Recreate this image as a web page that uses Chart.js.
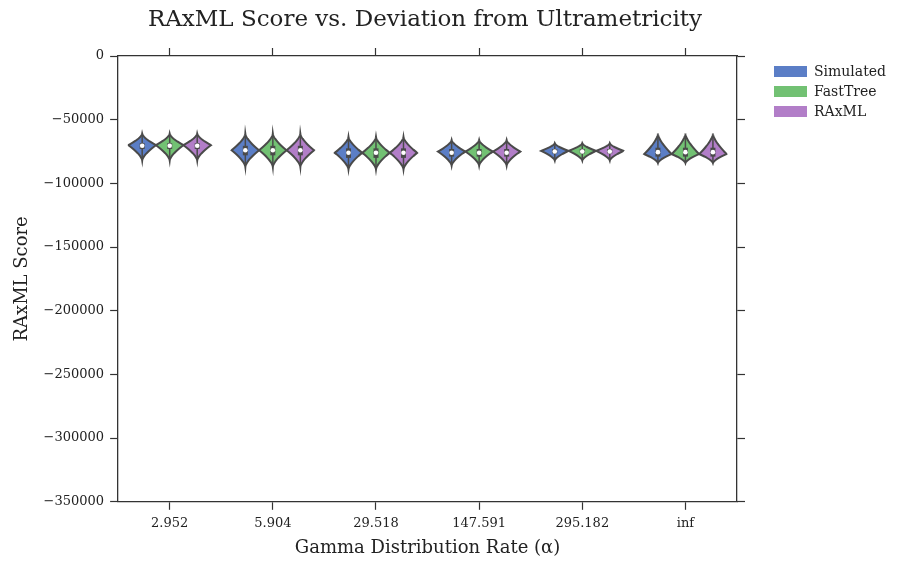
<!DOCTYPE html>
<html><head><meta charset="utf-8">
<script src="https://cdn.jsdelivr.net/npm/chart.js@4"></script>
<style>
body{margin:0;background:#fff;font-family:"DejaVu Serif",serif}
#wrap{position:relative;width:900px;height:563px}
#title{position:absolute;left:0;width:850px;top:5px;text-align:center;font-size:23px;color:#222}
#legend{position:absolute;left:774px;top:61px;font-size:14px;color:#222}
#legend div{height:20px;display:flex;align-items:center}
#legend span{display:inline-block;width:33px;height:11px;margin-right:7px}
</style></head><body>
<div id="wrap"><canvas id="c" width="900" height="563"></canvas>
<div id="title">RAxML Score vs. Deviation from Ultrametricity</div><div id="legend"></div></div>
<script>
// datos
const categories = ['2.952', '5.904', '29.518', '147.591', '295.182', 'inf'];
const seriesNames = ['Simulated', 'FastTree', 'RAxML'];
const seriesColors = ['#5b7ec6', '#72c173', '#b27ec8'];
// por categoria (iguales en las tres series)
const vMin = [-82000, -87000, -89000, -86000, -82000, -84000];
const vMax = [-61000, -61000, -63500, -66000, -68500, -61000];
const vMode = [-70000, -74000, -76000, -75000, -74500, -77000];
const vQ1 = [-73000, -78000, -80000, -79000, -76500, -79000];
const vMed = [-70500, -74000, -76000, -76000, -75000, -75500];
const vQ3 = [-68500, -70500, -72500, -73000, -73000, -72000];

const qs = s => document.querySelector(s);
qs('#legend').innerHTML = seriesNames.map((n, i) =>
  `<div><span style="background:${seriesColors[i]}"></span>${n}</div>`).join('');

const violins = {
  id: 'violins',
  afterDatasetsDraw(chart) {
    const ctx = chart.ctx, y = chart.scales.y;
    chart.data.datasets.forEach((ds, di) => {
      chart.getDatasetMeta(di).data.forEach((bar, i) => {
        const x = bar.x, hw = bar.width / 2;
        const top = y.getPixelForValue(vMax[i]), bot = y.getPixelForValue(vMin[i]);
        const mode = y.getPixelForValue(vMode[i]);
        const half = py => {
          const t = py < mode ? (mode - py) / (mode - top) : (py - mode) / (bot - mode);
          return hw * Math.pow(1 - Math.min(1, t), 1.5);
        };
        ctx.save();
        ctx.beginPath();
        for (let py = top; py <= bot; py += 0.5) ctx.lineTo(x + half(py), py);
        for (let py = bot; py >= top; py -= 0.5) ctx.lineTo(x - half(py), py);
        ctx.closePath();
        ctx.fillStyle = seriesColors[di];
        ctx.fill();
        ctx.strokeStyle = '#4a4a4a'; ctx.lineWidth = 2; ctx.stroke();
        // bigote + caja
        ctx.beginPath(); ctx.moveTo(x, top + 2); ctx.lineTo(x, bot - 2);
        ctx.lineWidth = 1.5; ctx.stroke();
        ctx.beginPath(); ctx.moveTo(x, y.getPixelForValue(vQ3[i])); ctx.lineTo(x, y.getPixelForValue(vQ1[i]));
        ctx.lineWidth = 5; ctx.stroke();
        ctx.beginPath(); ctx.arc(x, y.getPixelForValue(vMed[i]), 2.3, 0, Math.PI * 2);
        ctx.fillStyle = '#fff'; ctx.fill();
        ctx.restore();
      });
    });
  }
};

const font = { family: 'DejaVu Serif', size: 13 };
const tickGrid = { drawOnChartArea: false, tickLength: 8, color: '#333', tickWidth: 1.2, offset: false };
new Chart(qs('#c'), {
  type: 'bar',
  data: {
    labels: categories,
    datasets: seriesNames.map((n, i) => ({
      label: n, data: vMed, backgroundColor: 'transparent', borderWidth: 0
    }))
  },
  options: {
    responsive: false, animation: false,
    layout: { padding: { left: 8, right: 155, top: 48, bottom: 4 } },
    datasets: { bar: { categoryPercentage: 0.8, barPercentage: 1 } },
    plugins: { legend: { display: false }, tooltip: { enabled: false } },
    scales: {
      x: { position: 'bottom', grid: tickGrid, border: { color: '#333', width: 1.3 },
        ticks: { font, color: '#222', padding: 6 },
        title: { display: true, text: 'Gamma Distribution Rate (α)', font: { family: 'DejaVu Serif', size: 18 }, color: '#222', padding: 0 } },
      x2: { position: 'top', labels: categories, offset: true, grid: tickGrid, border: { color: '#333', width: 1.3 },
        ticks: { display: false } },
      y: { min: -350000, max: 0, grid: tickGrid, border: { color: '#333', width: 1.3 },
        ticks: { stepSize: 50000, font, color: '#222', padding: 6, callback: v => String(v).replace('-', '−') },
        title: { display: true, text: 'RAxML Score', font: { family: 'DejaVu Serif', size: 18 }, color: '#222' } },
      y2: { position: 'right', min: -350000, max: 0, grid: tickGrid, border: { color: '#333', width: 1.3 },
        ticks: { stepSize: 50000, display: false } }
    }
  },
  plugins: [violins]
});
</script></body></html>
